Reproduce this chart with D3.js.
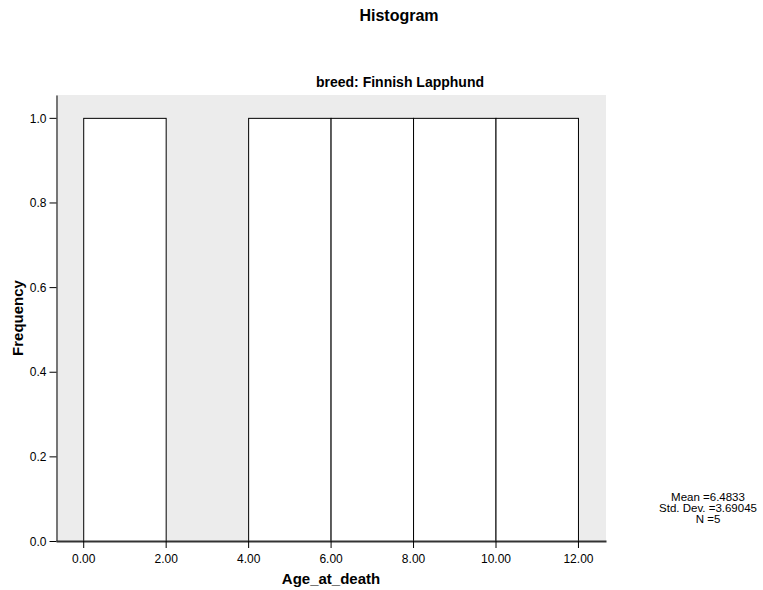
<!DOCTYPE html>
<meta charset="utf-8">
<style>
body { margin: 0; background: #fff; }
text { font-family: "Liberation Sans", Arial, sans-serif; fill: #000; }
.title { font-size: 16px; font-weight: bold; text-anchor: middle; }
.sub { font-size: 14px; font-weight: bold; text-anchor: middle; }
.lab { font-size: 15px; font-weight: bold; text-anchor: middle; }
.stats { font-size: 11.5px; text-anchor: middle; }
</style>
<body>
<script src="https://d3js.org/d3.v7.min.js"></script>
<script>

width = 763;
height = 590;

// histogram bins (Age_at_death), counts
binStart = [0, 2, 4, 6, 8, 10];
binEnd   = [2, 4, 6, 8, 10, 12];
counts   = [1, 0, 1, 1, 1, 1];

xTicks = [0, 2, 4, 6, 8, 10, 12];
yTicks = [0, 0.2, 0.4, 0.6, 0.8, 1.0];

statLines = ["Mean =6.4833", "Std. Dev. =3.69045", "N =5"];

bins = binStart.map((s, i) => ({x0: s, x1: binEnd[i], n: counts[i]}));

xScale = d3.scaleLinear([-0.66, 12.68], [56, 606]);
yScale = d3.scaleLinear([0, 1.054], [541, 95]);

var svg = d3.select("body").append("svg")
    .attr("width", width)
    .attr("height", height);

svg.append("text").attr("class", "title")
    .attr("x", 399).attr("y", 21).text("Histogram");

// plot background
svg.append("rect")
    .attr("x", xScale.range()[0]).attr("y", yScale.range()[1])
    .attr("width", xScale.range()[1] - xScale.range()[0])
    .attr("height", yScale.range()[0] - yScale.range()[1])
    .attr("fill", "#ececec");

svg.append("text").attr("class", "sub")
    .attr("x", 400).attr("y", 87).text("breed: Finnish Lapphund");

// bars
svg.append("g").selectAll("rect")
    .data(bins.filter(d => d.n > 0))
    .join("rect")
      .attr("x", d => xScale(d.x0) + 0.5)
      .attr("y", d => yScale(d.n) + 0.5)
      .attr("width", d => xScale(d.x1) - xScale(d.x0))
      .attr("height", d => yScale(0) - yScale(d.n))
      .attr("fill", "#fff")
      .attr("stroke", "#000")
      .attr("stroke-width", 1);

// y axis
yAxis = svg.append("g")
    .attr("transform", "translate(56.5,0)")
    .call(d3.axisLeft(yScale).tickValues(yTicks).tickFormat(d3.format(".1f")).tickSize(7).tickSizeOuter(0));
yAxis.select(".domain").attr("stroke", "#000");
yAxis.selectAll(".tick line").attr("stroke", "#000");
yAxis.selectAll(".tick text").attr("x", -10).attr("dy", "0.35em")
    .style("font-family", "'Liberation Sans', Arial, sans-serif").style("font-size", "12px").attr("fill", "#000");

// x axis
xAxis = svg.append("g")
    .attr("transform", "translate(0,541)")
    .call(d3.axisBottom(xScale).tickValues(xTicks).tickFormat(d3.format(".2f")).tickSize(7).tickSizeOuter(0));
xAxis.select(".domain").attr("stroke", "#333").attr("stroke-width", 2);
xAxis.selectAll(".tick line").attr("stroke", "#000");
xAxis.selectAll(".tick text").attr("y", 22).attr("dy", 0)
    .style("font-family", "'Liberation Sans', Arial, sans-serif").style("font-size", "12px").attr("fill", "#000");

svg.append("text").attr("class", "lab")
    .attr("x", 331).attr("y", 584).text("Age_at_death");

svg.append("text").attr("class", "lab")
    .attr("transform", "translate(23,318) rotate(-90)").text("Frequency");

svg.append("g").selectAll("text")
    .data(statLines)
    .join("text").attr("class", "stats")
      .attr("x", 708)
      .attr("y", (d, i) => 501 + i * 11)
      .text(d => d);

</script>
